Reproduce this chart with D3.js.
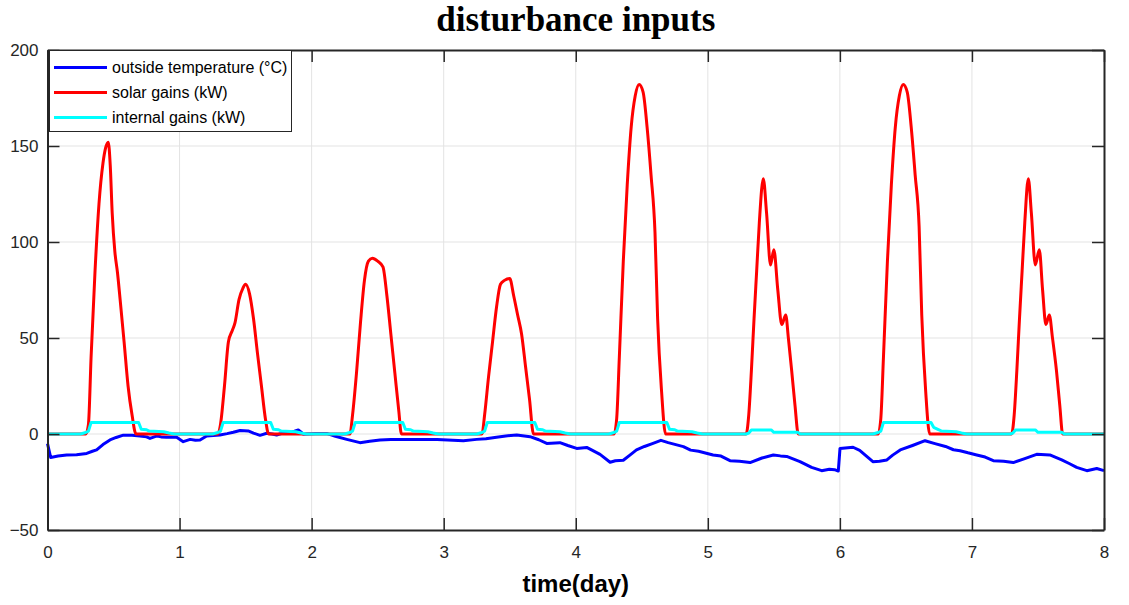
<!DOCTYPE html>
<html>
<head>
<meta charset="utf-8">
<script src="https://cdn.jsdelivr.net/npm/d3@7"></script>
<style>
  body { margin: 0; background: #fff; }
  svg text { fill: #262626; }
</style>
</head>
<body>
<svg id="chart"></svg>
<script>
// values (t in days)
const xTicks = [0, 1, 2, 3, 4, 5, 6, 7, 8];
const yTicks = [-50, 0, 50, 100, 150, 200];
const seriesNames = ['outside temperature (°C)', 'solar gains (kW)', 'internal gains (kW)'];
const seriesColors = ['#0000ff', '#ff0000', '#00ffff'];

const outsideTemp = [
  [0, -5], [0.024, -12.2], [0.08, -11.5], [0.145, -10.9], [0.22, -10.8], [0.297, -10.1], [0.34, -9], [0.372, -8.3],
  [0.42, -5.5], [0.473, -3.1], [0.52, -1.8], [0.574, -0.6], [0.64, -0.7], [0.70, -1], [0.75, -1.5], [0.776, -2.3],
  [0.83, -1], [0.86, -1.5], [0.90, -1.7], [0.978, -1.7], [1.028, -4], [1.08, -2.8], [1.12, -3.3], [1.155, -3.1],
  [1.205, -1], [1.306, -0.5], [1.36, 0.2], [1.407, 0.9], [1.458, 1.8], [1.52, 1.6], [1.56, 0.5], [1.609, -0.7],
  [1.66, 0.4], [1.70, 0], [1.735, -0.5], [1.81, 1.1], [1.87, 1.5], [1.899, 2.1], [1.937, 0], [1.963, 0],
  [2.03, 0.2], [2.114, 0.3], [2.18, -1.2], [2.266, -2.8], [2.366, -4.5], [2.44, -3.8], [2.518, -3.1], [2.6, -2.9],
  [2.77, -2.8], [2.95, -2.9], [3.149, -3.5], [3.25, -2.8], [3.32, -2.5], [3.40, -1.7], [3.47, -1.0], [3.553, -0.5],
  [3.654, -1.4], [3.72, -3], [3.78, -4.9], [3.88, -4.5], [3.94, -6], [4.007, -7.5], [4.083, -7], [4.184, -10.6],
  [4.26, -14.7], [4.30, -13.9], [4.36, -13.7], [4.41, -11], [4.46, -8.3], [4.52, -6.5], [4.58, -5], [4.645, -3.3],
  [4.7, -4.5], [4.815, -6.6], [4.87, -8.4], [4.93, -9], [5.04, -10.9], [5.10, -11.5], [5.168, -13.9], [5.24, -14.2],
  [5.32, -14.9], [5.41, -12.5], [5.496, -10.9], [5.55, -11.4], [5.597, -11.7], [5.698, -14.4], [5.786, -17.4], [5.862, -19.1],
  [5.92, -18.4], [5.96, -18.6], [5.988, -19.3], [6.001, -7.5], [6.10, -6.9], [6.15, -8.5], [6.25, -14.4], [6.30, -14.2],
  [6.356, -13.5], [6.40, -11], [6.457, -8.3], [6.55, -6], [6.645, -3.5], [6.72, -5], [6.80, -6.5], [6.86, -8.2],
  [6.91, -8.7], [6.97, -9.8], [7.036, -10.9], [7.10, -12], [7.162, -13.9], [7.24, -14.2], [7.313, -14.9], [7.40, -12.8],
  [7.49, -10.6], [7.59, -10.9], [7.68, -13.5], [7.74, -15.5], [7.793, -17.4], [7.87, -19.1], [7.945, -18], [8, -19.1]
];

const solarGains = [
  [0, 0], [0.29, 0], [0.31, 5], [0.33, 40], [0.36, 85], [0.39, 120], [0.42, 141], [0.44, 149], [0.46, 152],
  [0.475, 140], [0.49, 115], [0.51, 95], [0.53, 84], [0.55, 70], [0.58, 48], [0.61, 25], [0.64, 10], [0.67, 0],
  [1.29, 0], [1.31, 5], [1.34, 25], [1.37, 48], [1.40, 54], [1.42, 58], [1.45, 70], [1.48, 76], [1.50, 78],
  [1.53, 73], [1.56, 60], [1.59, 42], [1.62, 25], [1.65, 8], [1.675, 0],
  [2.29, 0], [2.31, 10], [2.34, 32], [2.37, 58], [2.40, 80], [2.43, 90], [2.46, 91.5], [2.50, 90], [2.54, 87],
  [2.57, 72], [2.60, 52], [2.63, 32], [2.66, 12], [2.68, 0],
  [3.29, 0], [3.31, 10], [3.34, 30], [3.37, 48], [3.40, 66], [3.43, 78], [3.46, 80], [3.50, 81], [3.53, 72],
  [3.56, 62], [3.59, 52], [3.62, 35], [3.65, 18], [3.68, 0],
  [4.29, 0], [4.31, 8], [4.33, 40], [4.36, 90], [4.39, 130], [4.42, 160], [4.45, 176], [4.48, 182], [4.51, 178],
  [4.54, 160], [4.57, 135], [4.60, 105], [4.62, 60], [4.65, 22], [4.68, 0],
  [5.29, 0], [5.31, 10], [5.33, 33], [5.35, 60], [5.37, 85], [5.39, 110], [5.42, 133], [5.445, 115], [5.475, 88],
  [5.50, 96], [5.53, 75], [5.56, 57], [5.59, 62], [5.61, 50], [5.635, 33], [5.66, 15], [5.685, 0],
  [6.29, 0], [6.31, 8], [6.33, 40], [6.36, 90], [6.39, 130], [6.42, 160], [6.45, 176], [6.48, 182], [6.51, 178],
  [6.54, 160], [6.57, 135], [6.60, 108], [6.62, 62], [6.65, 22], [6.68, 0],
  [7.30, 0], [7.32, 10], [7.34, 33], [7.36, 60], [7.38, 85], [7.40, 110], [7.427, 133], [7.45, 115], [7.48, 88],
  [7.51, 96], [7.535, 75], [7.56, 57], [7.586, 62], [7.61, 50], [7.64, 33], [7.665, 15], [7.687, 0], [8, 0]
];

const internalGains = [
  [0, 0], [0.25, 0], [0.29, 0.8], [0.31, 1.5], [0.33, 6], [0.69, 6], [0.71, 2.5], [0.75, 2.2], [0.77, 1.5], [0.88, 1.2], [0.92, 0.5], [0.96, 0],
  [1.25, 0], [1.29, 0.8], [1.31, 1.5], [1.33, 6], [1.69, 6], [1.71, 2.5], [1.75, 2.2], [1.77, 1.5], [1.88, 1.2], [1.92, 0.5], [1.96, 0],
  [2.25, 0], [2.29, 0.8], [2.31, 1.5], [2.33, 6], [2.69, 6], [2.71, 2.5], [2.75, 2.2], [2.77, 1.5], [2.88, 1.2], [2.92, 0.5], [2.96, 0],
  [3.25, 0], [3.29, 0.8], [3.31, 1.5], [3.33, 6], [3.69, 6], [3.71, 2.5], [3.75, 2.2], [3.77, 1.5], [3.88, 1.2], [3.92, 0.5], [3.96, 0],
  [4.25, 0], [4.29, 0.8], [4.31, 1.5], [4.33, 6], [4.69, 6], [4.71, 2.5], [4.75, 2.2], [4.77, 1.5], [4.88, 1.2], [4.92, 0.5], [4.96, 0],
  [5.29, 0], [5.31, 0.5], [5.33, 2.1], [5.48, 2.1], [5.50, 0.9], [5.68, 0.9], [5.70, 0],
  [6.25, 0], [6.29, 0.8], [6.31, 1.5], [6.33, 6], [6.69, 6], [6.71, 3.5], [6.75, 2.2], [6.77, 1.5], [6.88, 1.2], [6.92, 0.5], [6.96, 0],
  [7.29, 0], [7.31, 0.5], [7.33, 2.1], [7.48, 2.1], [7.50, 0.9], [7.68, 0.9], [7.70, 0], [8, 0]
];

const width = 1129, height = 605;
const plotLeft = 47.5, plotRight = 1104, plotTop = 50, plotBottom = 530;
const tickLen = 12;

const svg = d3.select('#chart')
    .attr('width', width)
    .attr('height', height)
    .style('font-family', 'Liberation Sans, Arial, sans-serif');

const x = d3.scaleLinear().domain([0, 8]).range([plotLeft, plotRight]);
const y = d3.scaleLinear().domain([-50, 200]).range([plotBottom, plotTop]);

// grid
svg.append('g').selectAll('line')
    .data(xTicks.slice(1, -1))
    .enter().append('line')
    .attr('x1', d => x(d)).attr('x2', d => x(d))
    .attr('y1', plotTop).attr('y2', plotBottom)
    .attr('stroke', '#e3e3e3').attr('stroke-width', 1);
svg.append('g').selectAll('line')
    .data(yTicks.slice(1, -1))
    .enter().append('line')
    .attr('x1', plotLeft).attr('x2', plotRight)
    .attr('y1', d => y(d)).attr('y2', d => y(d))
    .attr('stroke', '#e3e3e3').attr('stroke-width', 1);

// series (solar smoothed a little, the others straight segments)
const line = d3.line().x(d => x(d[0])).y(d => y(d[1]));
const smoothLine = d3.line().x(d => x(d[0])).y(d => y(d[1])).curve(d3.curveMonotoneX);
[outsideTemp, solarGains, internalGains].forEach((s, i) => {
    svg.append('path')
        .datum(s)
        .attr('d', i === 1 ? smoothLine : line)
        .attr('fill', 'none')
        .attr('stroke', seriesColors[i])
        .attr('stroke-width', 3)
        .attr('stroke-linejoin', 'round');
});

// axes (ticks inside on all sides)
const xAxis = d3.axisBottom(x).tickValues(xTicks).tickSizeInner(-tickLen).tickSizeOuter(0).tickPadding(16);
const yAxis = d3.axisLeft(y).tickValues(yTicks).tickSizeInner(-tickLen).tickSizeOuter(0).tickPadding(9);
const gx = svg.append('g').attr('transform', `translate(0,${plotBottom})`).call(xAxis);
const gy = svg.append('g').attr('transform', `translate(${plotLeft},0)`).call(yAxis);
const gxTop = svg.append('g').attr('transform', `translate(0,${plotTop})`)
    .call(d3.axisTop(x).tickValues(xTicks).tickSizeInner(-tickLen).tickSizeOuter(0).tickFormat(''));
const gyRight = svg.append('g').attr('transform', `translate(${plotRight},0)`)
    .call(d3.axisRight(y).tickValues(yTicks).tickSizeInner(-tickLen).tickSizeOuter(0).tickFormat(''));
[gx, gy, gxTop, gyRight].forEach(g => {
    g.select('.domain').attr('stroke', '#262626').attr('stroke-width', 2);
    g.selectAll('.tick line').attr('stroke', '#262626').attr('stroke-width', 1.5);
    g.selectAll('.tick text').style('font-size', '17px').attr('fill', '#262626');
});
gx.selectAll('.tick text').attr('dy', '0.71em');

// title & label
svg.append('text')
    .attr('x', (plotLeft + plotRight) / 2).attr('y', 31)
    .attr('text-anchor', 'middle')
    .style('font-family', 'Liberation Serif, Times New Roman, serif')
    .style('font-weight', 'bold')
    .style('font-size', '35px')
    .style('fill', '#000')
    .text('disturbance inputs');
svg.append('text')
    .attr('x', (plotLeft + plotRight) / 2).attr('y', 592)
    .attr('text-anchor', 'middle')
    .style('font-weight', 'bold')
    .style('font-size', '24px')
    .style('fill', '#000')
    .text('time(day)');

// legend
const legend = svg.append('g');
legend.append('rect')
    .attr('x', 49.5).attr('y', 50.5)
    .attr('width', 242).attr('height', 81)
    .attr('fill', '#fff').attr('stroke', '#262626').attr('stroke-width', 1);
const item = legend.selectAll('.item')
    .data(seriesNames)
    .enter().append('g')
    .attr('transform', (d, i) => `translate(0,${67.5 + i * 25})`);
item.append('line')
    .attr('x1', 54).attr('x2', 107)
    .attr('stroke', (d, i) => seriesColors[i])
    .attr('stroke-width', 3);
item.append('text')
    .attr('x', 112).attr('dy', '0.35em')
    .style('font-size', '16px')
    .style('fill', '#000')
    .text(d => d);
</script>
</body>
</html>
